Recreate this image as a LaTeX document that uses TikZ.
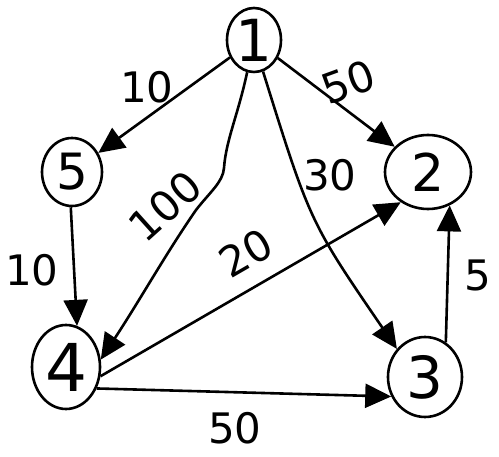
\documentclass[tikz,border=0pt]{standalone}
\usepackage{fontspec}
\setmainfont{DejaVu Sans}
\usepackage{tikz}
\usetikzlibrary{arrows.meta,shapes.geometric}
\newcommand{\numsize}[1]{\fontsize{#1}{#1}\selectfont}

\begin{document}
\begin{tikzpicture}[x=1pt,y=-1pt,>={Triangle[length=26pt,width=24pt]},
  vertex/.style={draw,ellipse,line width=2.6pt,inner sep=0pt},
  edgeline/.style={->,line width=2.6pt},
  weight/.style={font=\numsize{42},inner sep=0pt}]
  \useasboundingbox (0,0) rectangle (499,457);
  \node[vertex,minimum width=54pt,minimum height=64pt,font=\numsize{58}] (n1) at (254,40) {1};
  \node[vertex,minimum width=86pt,minimum height=74pt,font=\numsize{52}] (n2) at (428,172) {2};
  \node[vertex,minimum width=74pt,minimum height=80pt,font=\numsize{58}] (n3) at (425,377) {3};
  \node[vertex,minimum width=68pt,minimum height=84pt,font=\numsize{66}] (n4) at (66,367) {4};
  \node[vertex,minimum width=60pt,minimum height=68pt,font=\numsize{50}] (n5) at (72,172) {5};
  \draw[edgeline] (n1) -- (n5);
  \draw[edgeline] (n1) -- (n2);
  \draw[edgeline] (n1.-102) .. controls (238,115) and (226,140) .. (224,168)
    .. controls (223,182) and (210,192) .. (196,210)
    .. controls (165,255) and (140,300) .. (n4.12);
  \draw[edgeline] (n1.-74) .. controls (310,222) .. (n3.135);
  \draw[edgeline] (n5.268) -- (n4.75);
  \draw[edgeline] (n4.-15) -- (n2.228);
  \draw[edgeline] (n4.-35) -- (n3.210);
  \draw[edgeline] (n3.59) -- (n2.-57);
  \node[weight] (w15) at (147,87) {10};
  \node[weight] (w12) at (348,82) [rotate=20] {50};
  \node[weight] (w14) at (165,206) [rotate=42] {100};
  \node[weight] (w13) at (330,175) {30};
  \node[weight] (w54) at (32,270) {10};
  \node[weight] (w42) at (246,253) [rotate=30] {20};
  \node[weight] (w43) at (235,428) {50};
  \node[weight] (w32) at (478,275) {5};
\end{tikzpicture}
\end{document}
